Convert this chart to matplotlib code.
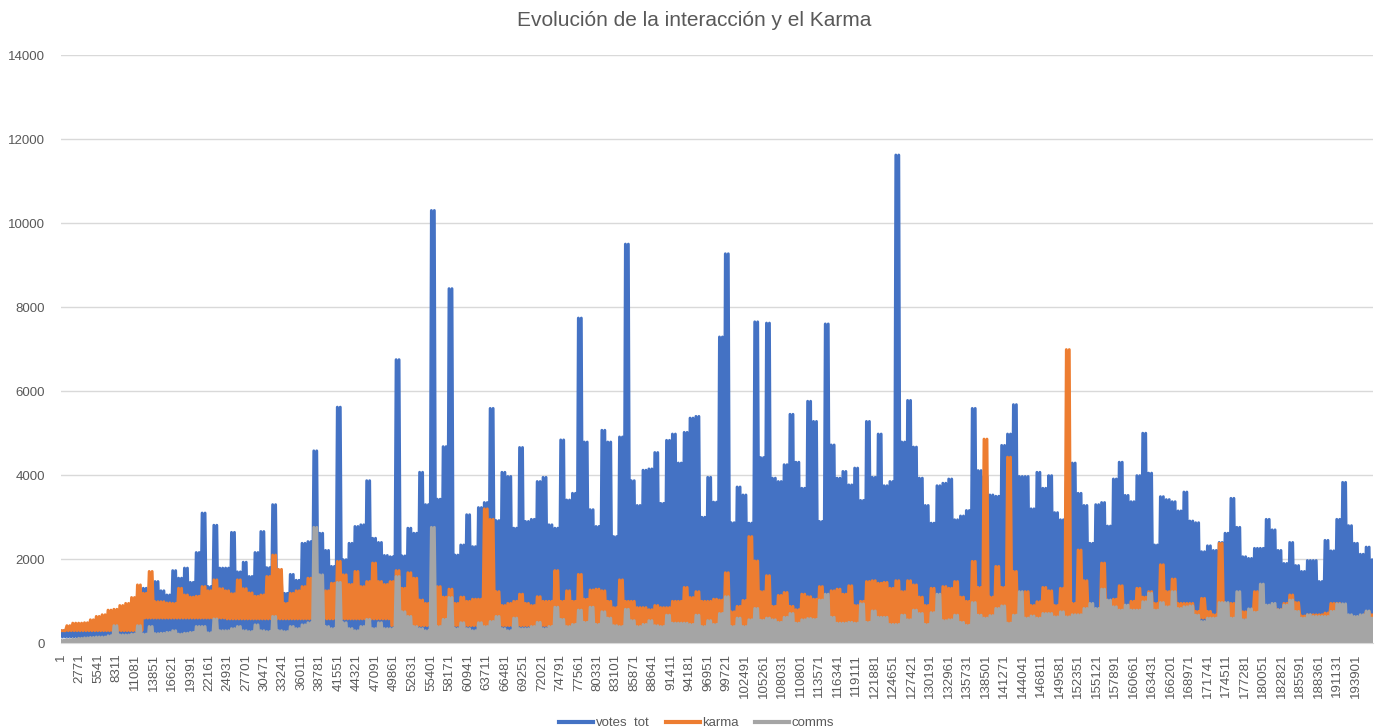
import numpy as np
import matplotlib
matplotlib.use("Agg")
import matplotlib.pyplot as plt
from matplotlib.lines import Line2D

plt.rcParams['font.family'] = ['Liberation Sans', 'DejaVu Sans']

# peak value of each series in consecutive slices of ~880 rows
votes_top = [
    300, 350, 380, 420, 460, 500, 520, 540, 560, 580, 620, 650, 700, 1170, 1310, 1200, 1470, 1250, 1150, 1730, 1550, 1790, 1450, 2160, 3100, 1350, 2810, 1790,
    1790, 2640, 1700, 1930, 1590, 2160, 2660, 1800, 3300, 1480, 1190, 1640, 1500, 2380, 2420, 4580, 2620, 2210, 1830, 5620, 1990, 2380, 2780, 2820, 3870, 2500, 2400, 2090,
    2060, 6750, 2080, 2740, 2620, 4070, 3300, 10300, 3430, 4680, 8440, 2100, 2340, 3060, 2300, 3230, 3350, 5590, 2920, 4070, 3970, 2740, 4660, 2900, 2950, 3850, 3950, 2820,
    2740, 4840, 3410, 3570, 7740, 4790, 3180, 2780, 5070, 4790, 2540, 4910, 9500, 3870, 3280, 4120, 4150, 4540, 3330, 4830, 4980, 4290, 5020, 5360, 5400, 3000, 3950, 3360,
    7290, 9270, 2870, 3720, 3530, 2860, 7650, 4420, 7620, 3930, 3850, 4250, 5450, 4310, 3690, 5760, 5280, 2900, 7600, 4720, 3930, 4090, 3770, 4170, 3400, 5280, 3950, 4980,
    3750, 3850, 11620, 4790, 5780, 4670, 3930, 3280, 2860, 3750, 3810, 3910, 2940, 3030, 3160, 5590, 4110, 3970, 3530, 3500, 4710, 4980, 5680, 3970, 3970, 3200, 4070, 3690,
    3990, 3110, 2940, 3850, 4290, 3570, 3280, 2380, 3300, 3350, 2790, 3910, 4310, 3520, 3370, 3990, 5000, 4050, 2340, 3490, 3420, 3370, 3150, 3600, 2910, 2870, 2180, 2320,
    2210, 2400, 2620, 3450, 2760, 2060, 2020, 2260, 2260, 2950, 2700, 2210, 1900, 2400, 1850, 1710, 1970, 1970, 1470, 2450, 2200, 2950, 3830, 2800, 2380, 2120, 2290, 1990,
]
karma_top = [
    300, 420, 480, 480, 490, 560, 640, 680, 790, 810, 900, 950, 1090, 1390, 1190, 1710, 990, 990, 960, 950, 1310, 1150, 1100, 1120, 1350, 1250, 1510, 1300,
    1250, 1180, 1510, 1300, 1200, 1120, 1150, 1590, 2100, 1760, 950, 1190, 1250, 1350, 1550, 1670, 1200, 1250, 1430, 1950, 1630, 1400, 1710, 1350, 1470, 1910, 1470, 1400,
    1470, 1730, 1310, 1680, 1550, 1030, 950, 1200, 1350, 1100, 1290, 950, 1100, 1000, 1050, 1050, 3200, 2950, 1230, 900, 950, 1000, 1170, 950, 900, 1110, 1000, 1000,
    1730, 1000, 1250, 1000, 1640, 1050, 1270, 1290, 1250, 1000, 850, 1510, 1000, 1000, 850, 850, 800, 900, 850, 850, 1000, 1000, 1330, 1090, 1230, 1000, 1000, 1050,
    1030, 1680, 750, 880, 1020, 2540, 1960, 1230, 1610, 880, 1140, 1210, 880, 800, 1170, 1110, 1050, 1350, 1020, 1250, 1290, 1170, 1370, 900, 1000, 1470, 1490, 1430,
    1450, 1310, 1490, 1230, 1490, 1390, 1100, 900, 1310, 1050, 1350, 1310, 1470, 1100, 1000, 1950, 1330, 4860, 1100, 1830, 1330, 4430, 1710, 900, 1230, 900, 990, 1330,
    1250, 900, 1310, 6990, 950, 2220, 1490, 800, 800, 1910, 1000, 1050, 1370, 900, 1000, 1310, 1100, 1230, 950, 1870, 1230, 1530, 950, 950, 950, 760, 1070, 760,
    680, 2380, 680, 950, 800, 750, 680, 1230, 870, 870, 870, 800, 950, 1150, 970, 650, 680, 680, 680, 720, 950, 950, 680, 640, 620, 610, 750, 680,
]
comms_top = [
    80, 90, 100, 120, 130, 140, 150, 150, 180, 420, 200, 200, 220, 420, 220, 400, 230, 240, 260, 300, 220, 240, 260, 400, 400, 250, 580, 300,
    300, 350, 400, 300, 280, 440, 300, 280, 640, 300, 280, 400, 350, 440, 490, 2760, 1630, 400, 350, 1450, 490, 350, 300, 400, 570, 350, 490, 350,
    350, 1590, 750, 640, 400, 350, 300, 2760, 400, 570, 1090, 350, 490, 350, 300, 490, 400, 520, 640, 350, 300, 600, 350, 350, 400, 500, 350, 400,
    860, 570, 400, 450, 790, 500, 860, 450, 750, 600, 420, 400, 810, 540, 400, 450, 540, 420, 400, 670, 480, 480, 480, 450, 670, 400, 540, 450,
    710, 1110, 400, 600, 400, 560, 830, 550, 600, 560, 500, 620, 710, 480, 560, 590, 570, 1030, 1170, 620, 480, 480, 500, 480, 940, 500, 770, 620,
    620, 450, 450, 670, 560, 790, 710, 450, 730, 1170, 540, 560, 670, 500, 430, 970, 670, 600, 660, 830, 890, 480, 670, 1230, 600, 650, 600, 710,
    710, 630, 750, 630, 680, 680, 830, 950, 830, 1290, 1030, 870, 790, 910, 790, 790, 990, 1190, 790, 970, 870, 1230, 830, 870, 890, 670, 520, 600,
    600, 970, 970, 600, 1230, 560, 820, 740, 1410, 910, 950, 800, 910, 1030, 760, 600, 680, 640, 640, 640, 760, 940, 940, 680, 640, 680, 770, 600,
]

# lower edge of each band, one value per 14 slices
votes_low = [150, 200, 220, 250, 280, 280, 300, 300, 320, 320, 350, 350, 450, 450, 450, 450]
karma_low = [300, 600, 580, 580, 420, 420, 380, 380, 420, 420, 450, 450, 600, 600, 600, 600]
comms_low = [0, 0, 0, 0, 0, 0, 0, 0, 0, 0, 0, 0, 0, 0, 0, 0]

slice_rows = 880.5
tick_labels = [str(1 + 2770 * k) for k in range(71)]


def zigzag(top, low, sub=4):
    # each slice is drawn as rows swinging between its peak and its lower edge
    top = np.asarray(top, dtype=float)
    low = np.repeat(low, len(top) // len(low))
    start = 1 + np.arange(len(top)) * slice_rows
    x = (start[:, None] + np.arange(sub)[None, :] * slice_rows / sub).ravel()
    y = np.where(np.arange(sub)[None, :] % 2 == 0, top[:, None], low[:, None]).ravel()
    return x, y


fig = plt.figure(figsize=(13.88, 7.28), dpi=100)
ax = fig.add_axes([60.5 / 1388, 1 - 643.3 / 728, (1372.7 - 60.5) / 1388, (643.3 - 55) / 728])

series = [
    ('votes_tot', votes_top, votes_low, '#4472C4'),
    ('karma', karma_top, karma_low, '#ED7D31'),
    ('comms', comms_top, comms_low, '#A5A5A5'),
]
for name, top, low, col in series:
    x, y = zigzag(top, low)
    ax.plot(x, y, color=col, lw=2.1, solid_joinstyle='round', solid_capstyle='round', zorder=3)

ax.set_xlim(-75, 196450)
ax.set_ylim(0, 14000)
ax.set_yticks(range(0, 14001, 2000))
ax.set_xticks([1 + 2770 * k for k in range(71)])
ax.set_xticklabels(tick_labels, rotation=90)
ax.tick_params(axis='both', length=0, labelsize=9.5, labelcolor='#595959')
ax.tick_params(axis='y', pad=11)
ax.tick_params(axis='x', pad=7.5)
ax.grid(axis='y', color='#D9D9D9', lw=1, zorder=0)
ax.set_axisbelow(True)
for s in ['top', 'right', 'left']:
    ax.spines[s].set_visible(False)
ax.spines['bottom'].set_color('#D9D9D9')
ax.spines['bottom'].set_zorder(4)

fig.text(0.5, 1 - 21 / 728, 'Evolución de la interacción y el Karma', ha='center', va='center',
         fontsize=15, color='#595959')

handles = [Line2D([], [], color=c, lw=3) for _, _, _, c in series]
fig.legend(handles, [s[0] for s in series], loc='center', bbox_to_anchor=(0.502, 1 - 723 / 728),
           ncol=3, frameon=False, fontsize=9.5, handlelength=2.6, handletextpad=0.2,
           columnspacing=1.2, labelcolor='#595959')

fig.savefig('out.png', dpi=100)
